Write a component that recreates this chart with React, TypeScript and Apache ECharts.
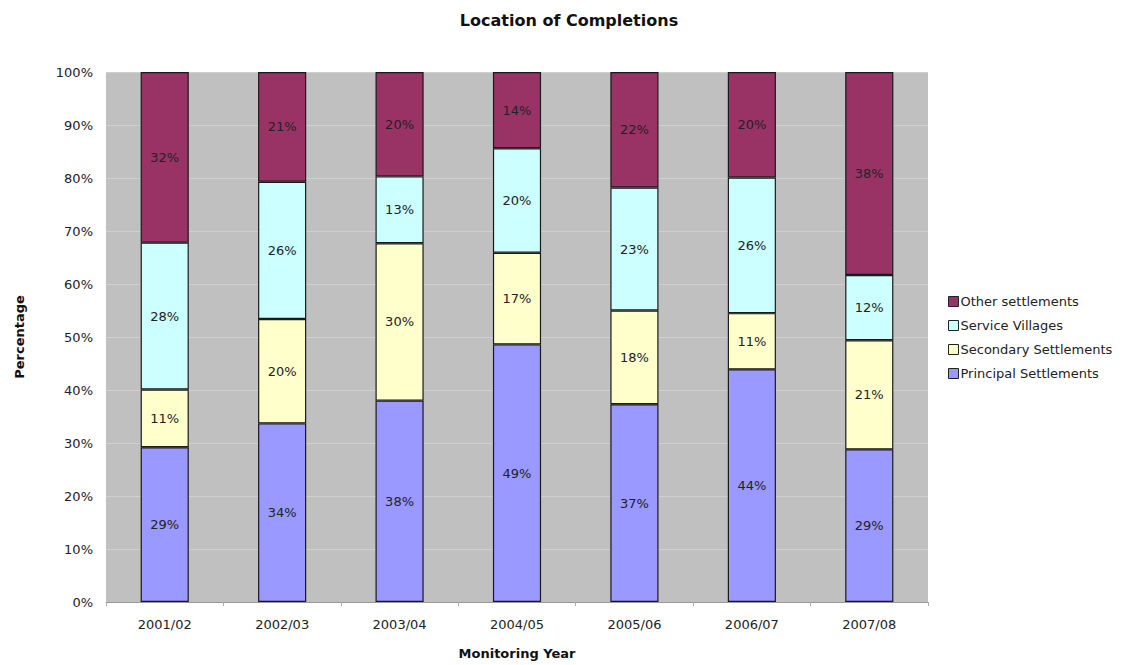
import React, { useEffect, useRef } from "react";
import * as echarts from "echarts";

const categories = ["2001/02", "2002/03", "2003/04", "2004/05", "2005/06", "2006/07", "2007/08"];
const principal = [29.2, 33.7, 38.0, 48.6, 37.3, 43.9, 28.8];
const secondary = [10.9, 19.7, 29.7, 17.3, 17.7, 10.6, 20.6];
const service = [27.7, 25.9, 12.6, 19.7, 23.2, 25.6, 12.3];
const other = [32.2, 20.7, 19.7, 14.4, 21.8, 19.9, 38.3];
const yTicks = [0, 10, 20, 30, 40, 50, 60, 70, 80, 90, 100];

const seriesDefs = [
  { name: "Principal Settlements", data: principal, color: "#9999ff" },
  { name: "Secondary Settlements", data: secondary, color: "#ffffcc" },
  { name: "Service Villages", data: service, color: "#ccffff" },
  { name: "Other settlements", data: other, color: "#993366" },
];

const FONT = "'DejaVu Sans', 'Noto Sans', sans-serif";

export default function App() {
  const ref = useRef<HTMLDivElement>(null);
  useEffect(() => {
    if (!ref.current) return;
    const chart = echarts.init(ref.current, null, { renderer: "svg" });
    chart.setOption({
      animation: false,
      backgroundColor: "#ffffff",
      textStyle: { fontFamily: FONT },
      title: {
        text: "Location of Completions",
        left: 564,
        textAlign: "center",
        top: 7,
        textStyle: { fontSize: 16, fontWeight: "bold", color: "#111", fontFamily: FONT },
      },
      legend: {
        orient: "vertical",
        left: 943,
        top: 290,
        itemGap: 11,
        itemWidth: 10,
        itemHeight: 10,
        icon: "rect",
        data: ["Other settlements", "Service Villages", "Secondary Settlements", "Principal Settlements"],
        textStyle: { fontSize: 13, color: "#222", fontFamily: FONT, padding: [0, 0, 0, -3] },
        itemStyle: { borderColor: "#222", borderWidth: 1 },
      },
      grid: {
        left: 106,
        right: 196,
        top: 72,
        bottom: 62,
        show: true,
        backgroundColor: "#c0c0c0",
        borderWidth: 0,
      },
      xAxis: {
        type: "category",
        data: categories,
        name: "Monitoring Year",
        nameLocation: "middle",
        nameGap: 45,
        nameTextStyle: { fontSize: 13, fontWeight: "bold", color: "#111" },
        axisLine: { lineStyle: { color: "#999", width: 1 } },
        axisTick: { show: true, length: 4, lineStyle: { color: "#aaa" } },
        axisLabel: { fontSize: 13, color: "#222", margin: 16 },
      },
      yAxis: {
        type: "value",
        min: 0,
        max: 100,
        interval: 10,
        name: "Percentage",
        nameLocation: "middle",
        nameGap: 80,
        nameTextStyle: { fontSize: 13, fontWeight: "bold", color: "#111" },
        axisLine: { show: false },
        axisTick: { show: false },
        axisLabel: {
          fontSize: 13,
          color: "#222",
          margin: 13,
          formatter: (v: number) => (yTicks.includes(v) ? v + "%" : ""),
        },
        splitLine: { show: true, lineStyle: { color: "#d0d0d0", width: 1 } },
      },
      series: seriesDefs.map((s) => ({
        name: s.name,
        type: "bar",
        stack: "total",
        barWidth: "41%",
        data: s.data,
        itemStyle: { color: s.color, borderColor: "#1a1a1a", borderWidth: 1.2 },
        label: {
          show: true,
          position: "inside",
          fontSize: 13,
          color: "#222",
          formatter: (p: any) => Math.round(p.value) + "%",
        },
      })),
    });
    return () => chart.dispose();
  }, []);
  return (
    <div
      ref={ref}
      style={{ position: "fixed", left: 0, top: 0, width: 1124, height: 665 }}
    />
  );
}
